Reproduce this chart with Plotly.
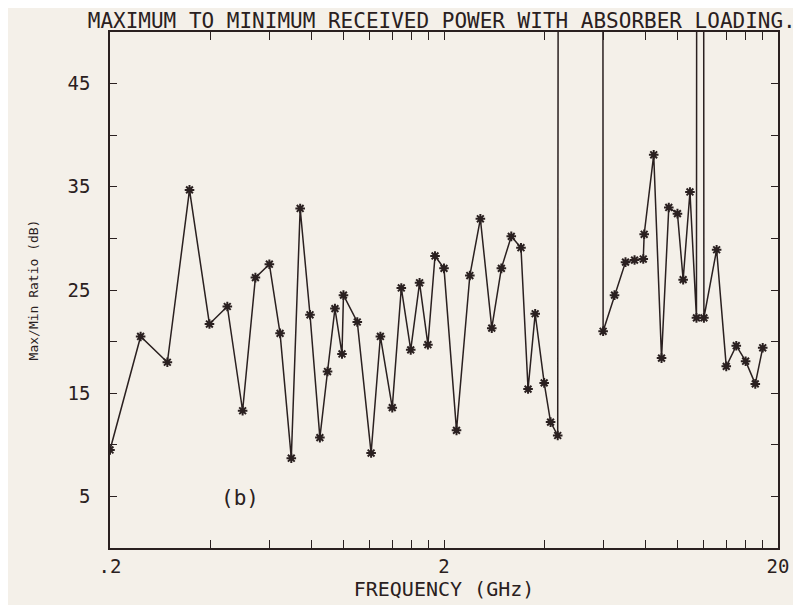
import math
import plotly.graph_objects as go

# frequency points (GHz) and max/min ratio (dB); 400/600 are the off-scale spikes
freq_ghz = [0.2, 0.247, 0.297, 0.346, 0.397, 0.449, 0.499, 0.545, 0.60, 0.646,
            0.698, 0.742, 0.794, 0.85, 0.896, 0.943, 0.99, 1.0, 1.10, 1.21,
            1.29, 1.40, 1.49, 1.59, 1.69, 1.79, 1.88, 2.0, 2.18, 2.39,
            2.57, 2.78, 2.97, 3.18, 3.40, 3.57, 3.75, 3.99, 4.17, 4.38,
            4.5, 5.9, 5.99, 6.48, 6.99, 7.44, 7.9, 7.95, 8.49, 8.96,
            9.42, 10.0, 10.4, 10.9, 11.4, 11.7, 12.0, 13.1, 14.0, 15.0,
            16.0, 17.1, 18.0]
ratio_db = [9.5, 20.5, 18.0, 34.7, 21.7, 23.4, 13.3, 26.2, 27.5, 20.8,
            8.7, 32.9, 22.6, 10.7, 17.1, 23.2, 18.8, 24.5, 21.9, 9.2,
            20.5, 13.6, 25.2, 19.2, 25.7, 19.7, 28.3, 27.1, 11.4, 26.4,
            31.9, 21.3, 27.1, 30.2, 29.1, 15.4, 22.7, 16.0, 12.2, 10.9,
            400, 400, 21.0, 24.5, 27.7, 27.9, 28.0, 30.4, 38.1, 18.4,
            33.0, 32.4, 26.0, 34.5, 22.3, 600, 22.3, 28.9, 17.6, 19.6,
            18.1, 15.9, 19.4]

x_ticks = [0.2, 0.4, 0.6, 0.8, 1.0, 1.2, 1.4, 1.6, 1.8, 2,
           4, 6, 8, 10, 12, 14, 16, 18, 20]
x_labels = {0.2: ".2", 2: "2", 20: "20"}
y_ticks = list(range(0, 55, 5))
y_labels = [5, 15, 25, 35, 45]

ink = "#2a2020"
paper = "#f4f0e9"
mono = "DejaVu Sans Mono"

fig = go.Figure()
fig.add_trace(go.Scatter(
    x=freq_ghz, y=ratio_db,
    mode="lines+markers",
    line=dict(color=ink, width=1.5),
    marker=dict(symbol="asterisk-open", size=8, color=ink,
                line=dict(color=ink, width=2)),
    showlegend=False
))

# annotations on a log axis take log10 positions
fig.add_annotation(x=math.log10(0.49), y=4.8, xref="x", yref="y", text="(b)",
                   showarrow=False, font=dict(family=mono, size=21, color=ink))

# page body adds an 8px margin, so the figure is a bit smaller than the window
fig.update_layout(
    width=793, height=597,
    margin=dict(l=102, r=20, t=24, b=48),
    paper_bgcolor=paper, plot_bgcolor=paper,
    font=dict(family=mono, color=ink),
    title=dict(text="MAXIMUM TO MINIMUM RECEIVED POWER WITH ABSORBER LOADING.",
               x=0.547, xanchor="center", y=0.979, yanchor="middle",
               font=dict(family=mono, size=21, color=ink)),
)

fig.update_xaxes(
    type="log", range=[math.log10(0.2), math.log10(20)],
    tickvals=x_ticks,
    ticktext=[x_labels.get(v, "") for v in x_ticks],
    ticks="inside", ticklen=8, tickwidth=1.2, tickcolor=ink,
    showline=True, linecolor=ink, linewidth=1.5, mirror="ticks",
    showgrid=False, zeroline=False,
    tickfont=dict(family=mono, size=19, color=ink),
    title=dict(text="FREQUENCY (GHz)", standoff=2,
               font=dict(family=mono, size=20, color=ink)),
)

fig.update_yaxes(
    range=[0, 50],
    tickvals=y_ticks,
    ticktext=[str(v) if v in y_labels else "" for v in y_ticks],
    ticks="inside", ticklen=7, tickwidth=1.2, tickcolor=ink,
    showline=True, linecolor=ink, linewidth=1.5, mirror="ticks",
    showgrid=False, zeroline=False,
    ticklabelstandoff=14,
    tickfont=dict(family=mono, size=19, color=ink),
    title=dict(text="Max/Min Ratio (dB)", standoff=26,
               font=dict(family=mono, size=13, color=ink)),
)

fig.write_html("out.html")
